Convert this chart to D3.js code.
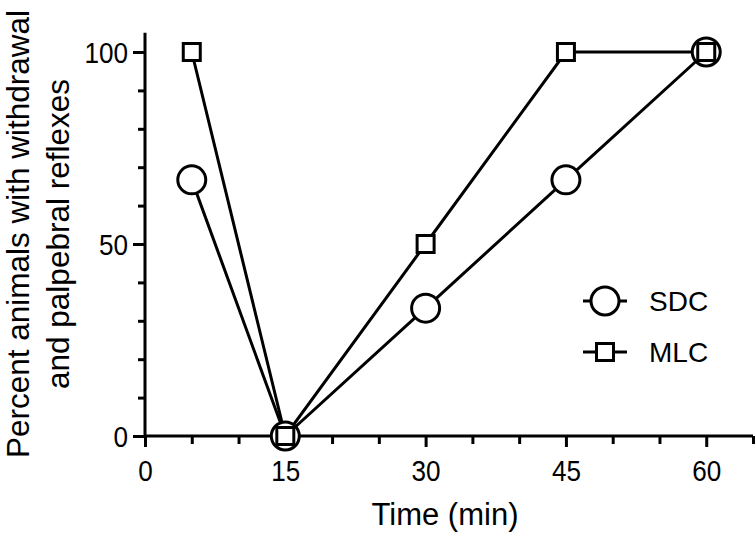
<!DOCTYPE html>
<html><head><meta charset="utf-8">
<script src="https://cdn.jsdelivr.net/npm/d3@7"></script>
<style>body{margin:0;background:#fff}svg{display:block}text{font-family:"Liberation Sans",Arial,sans-serif;fill:#000}</style>
</head><body><svg id="c" width="756" height="534"></svg>
<script>
const times = [5, 15, 30, 45, 60];
const sdc = [66.7, 0, 33.3, 66.7, 100];
const mlc = [100, 0, 50, 100, 100];
const xTicks = [0, 15, 30, 45, 60];
const yTicks = [0, 50, 100];
const seriesNames = ["SDC", "MLC"];

const svg = d3.select("#c");
const x = d3.scaleLinear().domain([0, 65]).range([145, 753]);
const y = d3.scaleLinear().domain([0, 100]).range([436, 52]);

// axes
const xAxis = svg.append("g").attr("transform", "translate(0,436)");
xAxis.call(d3.axisBottom(x).tickValues(d3.range(0, 66, 5)).tickSize(8).tickFormat(""));
xAxis.selectAll(".tick").filter(d => d % 15 === 0).select("line").attr("y2", 11);
xAxis.select(".domain").attr("d", `M${x(0)},0H${x(65)}`);
const xAxisLbl = svg.append("g").attr("transform", "translate(0,436)")
  .call(d3.axisBottom(x).tickValues(xTicks).tickSize(0).tickPadding(24));
xAxisLbl.select(".domain").remove();
xAxisLbl.selectAll("text").attr("font-size", 29).attr("dy", "0.72em").attr("transform", "scale(0.9,1)");

const yAxis = svg.append("g").attr("transform", "translate(145,0)");
yAxis.call(d3.axisLeft(y).tickValues(d3.range(0, 101, 10)).tickSize(7).tickFormat(""));
yAxis.selectAll(".tick").filter(d => d % 50 === 0).select("line").attr("x2", -12);
yAxis.select(".domain").attr("d", `M0,${y(0)}V${y(105)}`);
const yAxisLbl = svg.append("g").attr("transform", "translate(145,0)")
  .call(d3.axisLeft(y).tickValues(yTicks).tickSize(0).tickPadding(19));
yAxisLbl.select(".domain").remove();
yAxisLbl.selectAll("text").attr("font-size", 29).attr("dy", "0.36em").attr("transform", "scale(0.9,1)");

svg.selectAll(".domain").attr("stroke", "#000").attr("stroke-width", 3);
svg.selectAll(".tick line").attr("stroke", "#000").attr("stroke-width", 3);

// lines
const line = d3.line().x(d => x(d[0])).y(d => y(d[1]));
const sdcPts = times.map((t, i) => [t, sdc[i]]);
const mlcPts = times.map((t, i) => [t, mlc[i]]);
svg.append("path").attr("d", line(sdcPts)).attr("fill", "none").attr("stroke", "#000").attr("stroke-width", 3);
svg.append("path").attr("d", line(mlcPts)).attr("fill", "none").attr("stroke", "#000").attr("stroke-width", 3);

svg.selectAll(".sdc").data(sdcPts).join("circle").attr("class", "sdc")
  .attr("cx", d => x(d[0])).attr("cy", d => y(d[1])).attr("r", 14)
  .attr("fill", "#fff").attr("stroke", "#000").attr("stroke-width", 3);
const sq = 17;
svg.selectAll(".mlc").data(mlcPts).join("rect").attr("class", "mlc")
  .attr("x", d => x(d[0]) - sq / 2).attr("y", d => y(d[1]) - sq / 2).attr("width", sq).attr("height", sq)
  .attr("fill", "#fff").attr("stroke", "#000").attr("stroke-width", 3);

// legend
const lg = svg.append("g");
[301, 352].forEach((ly, i) => {
  lg.append("line").attr("x1", 583).attr("x2", 627).attr("y1", ly).attr("y2", ly).attr("stroke", "#000").attr("stroke-width", 3);
  if (i === 0) lg.append("circle").attr("cx", 605).attr("cy", ly).attr("r", 14).attr("fill", "#fff").attr("stroke", "#000").attr("stroke-width", 3);
  else lg.append("rect").attr("x", 605 - sq / 2).attr("y", ly - sq / 2).attr("width", sq).attr("height", sq).attr("fill", "#fff").attr("stroke", "#000").attr("stroke-width", 3);
  lg.append("text").attr("x", 649).attr("y", ly).attr("dy", "0.36em").attr("font-size", 28).text(seriesNames[i]);
});

// axis titles
svg.append("text").attr("x", 445).attr("y", 525).attr("text-anchor", "middle").attr("font-size", 31).text("Time (min)");
svg.append("text").attr("transform", "translate(29,234) rotate(-90)").attr("text-anchor", "middle").attr("font-size", 31.5).text("Percent animals with withdrawal");
svg.append("text").attr("transform", "translate(69,234) rotate(-90)").attr("text-anchor", "middle").attr("font-size", 31.5).text("and palpebral reflexes");
</script></body></html>
